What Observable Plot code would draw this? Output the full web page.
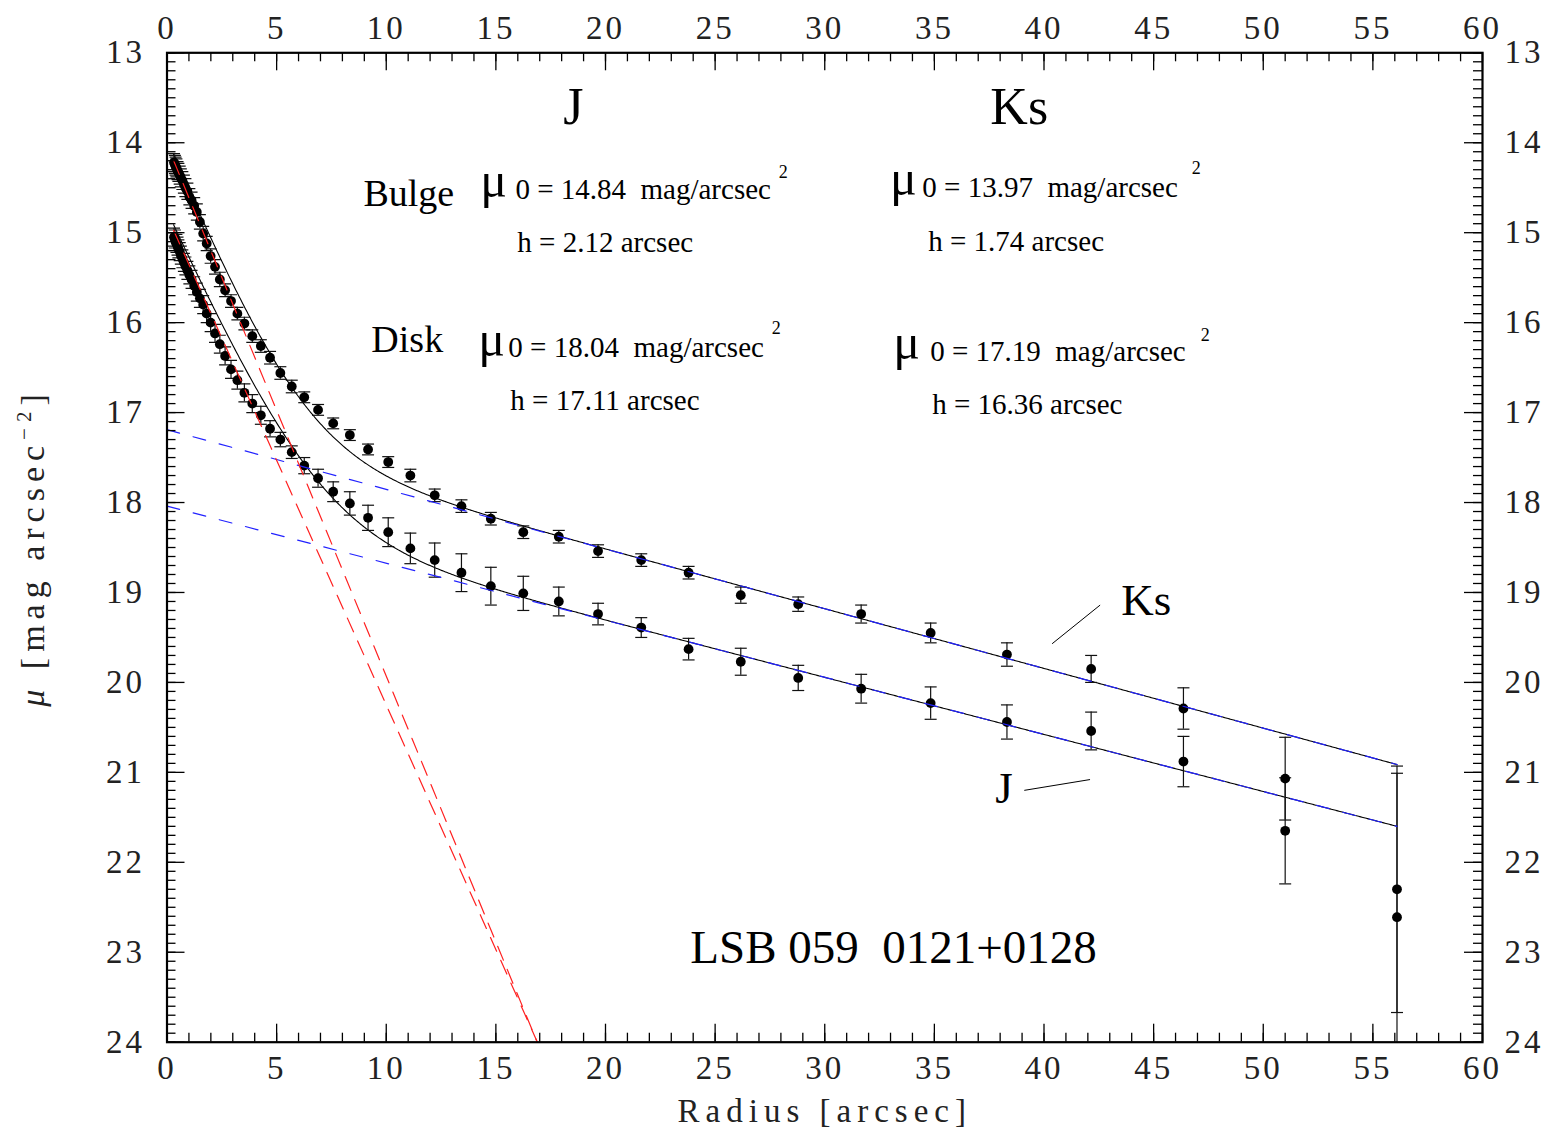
<!DOCTYPE html>
<html><head><meta charset="utf-8">
<script src="https://cdn.jsdelivr.net/npm/d3@7"></script>
<script src="https://cdn.jsdelivr.net/npm/@observablehq/plot@0.6"></script>
<style>
html,body{margin:0;padding:0;background:#fff;}
svg text{white-space:pre;}
g[aria-description="ticklab"] text{letter-spacing:3px;}
g[aria-description="axtitle"] text{letter-spacing:6px;}
</style>
</head><body><div id="chart"></div>
<script>
// ---- data ----
const radii = [0.32,0.36,0.39,0.43,0.48,0.52,0.58,0.63,0.70,0.77,
  0.84,0.93,1.02,1.12,1.24,1.36,1.50,1.65,1.81,1.99,
  2.19,2.41,2.65,2.92,3.21,3.53,3.89,4.28,4.70,5.17,
  5.69,6.26,6.89,7.58,8.34,9.17,10.09,11.10,12.21,13.43,
  14.77,16.25,17.87,19.66,21.63,23.79,26.17,28.79,31.66,34.83,
  38.31,42.15,46.36,51.00,56.10];
const muKs = [14.22,14.24,14.26,14.28,14.31,14.33,14.36,14.39,14.42,14.46,
  14.50,14.54,14.60,14.64,14.70,14.77,14.88,15.01,15.12,15.26,
  15.38,15.52,15.64,15.76,15.90,16.01,16.15,16.26,16.39,16.56,
  16.71,16.83,16.97,17.12,17.25,17.41,17.55,17.70,17.92,18.04,
  18.18,18.33,18.38,18.54,18.64,18.78,19.03,19.13,19.24,19.45,
  19.69,19.85,20.29,21.07,22.30];
const errKs = [0.10,0.10,0.10,0.10,0.10,0.10,0.10,0.10,0.10,0.10,
  0.10,0.09,0.09,0.09,0.09,0.09,0.08,0.08,0.08,0.08,
  0.08,0.08,0.07,0.07,0.07,0.07,0.07,0.07,0.07,0.07,
  0.07,0.06,0.06,0.06,0.06,0.06,0.06,0.07,0.07,0.07,
  0.07,0.07,0.07,0.07,0.07,0.07,0.09,0.08,0.10,0.11,
  0.13,0.15,0.23,0.46,1.37];
const muJ = [15.05,15.07,15.10,15.12,15.15,15.18,15.21,15.25,15.29,15.33,
  15.37,15.42,15.47,15.52,15.59,15.66,15.73,15.80,15.90,16.00,
  16.12,16.24,16.37,16.52,16.64,16.78,16.90,17.03,17.18,17.30,
  17.44,17.59,17.73,17.88,18.01,18.17,18.33,18.51,18.64,18.78,
  18.93,19.01,19.10,19.24,19.39,19.63,19.77,19.95,20.07,20.23,
  20.44,20.54,20.88,21.65,22.61];
const errJ = [0.10,0.10,0.10,0.10,0.10,0.10,0.10,0.10,0.10,0.10,
  0.10,0.10,0.10,0.10,0.10,0.10,0.10,0.10,0.10,0.10,
  0.10,0.10,0.10,0.10,0.10,0.10,0.10,0.10,0.09,0.08,
  0.07,0.09,0.10,0.11,0.13,0.14,0.16,0.17,0.19,0.21,
  0.21,0.19,0.16,0.12,0.11,0.12,0.15,0.14,0.16,0.18,
  0.19,0.21,0.28,0.59,1.60];

// fit components (as drawn)
const bands = ["J", "Ks"];
const bulgeMu0 = [14.81, 14.02];
const bulgeSlope = [0.544, 0.591];   // mag / arcsec
const diskMu0 = [18.04, 17.19];
const diskScale = [17.11, 16.36];    // arcsec
const fitStart = 0.3, fitEnd = 56.1;

// tick labels
const xMajor = [0,5,10,15,20,25,30,35,40,45,50,55,60];
const yMajor = [13,14,15,16,17,18,19,20,21,22,23,24];

// ---- build tables ----
const pts = [];
radii.forEach((r, i) => {
  pts.push({band: "Ks", r, mu: muKs[i], e: errKs[i]});
  pts.push({band: "J", r, mu: muJ[i], e: errJ[i]});
});
const bulge = (b, r) => bulgeMu0[b] + bulgeSlope[b] * r;
const disk = (b, r) => diskMu0[b] + 1.0857 * r / diskScale[b];
const total = (b, r) => -2.5 * Math.log10(Math.pow(10, -0.4 * bulge(b, r)) + Math.pow(10, -0.4 * disk(b, r)));
const curve = [], diskLines = [], bulgeLines = [];
bands.forEach((name, b) => {
  for (let r = fitStart; r <= fitEnd + 1e-9; r += 0.05) curve.push({band: name, r, mu: total(b, r)});
  diskLines.push({band: name, r: 0, mu: disk(b, 0)}, {band: name, r: fitEnd, mu: disk(b, fitEnd)});
  const rEnd = (24 - bulgeMu0[b]) / bulgeSlope[b];
  bulgeLines.push({band: name, r: fitStart, mu: bulge(b, fitStart)}, {band: name, r: rEnd, mu: 24});
});

const xMinor = d3.range(0, 61, 1);
const yMinor = d3.range(130, 241).map(v => v / 10);

// annotations
const serif = "Liberation Serif, Times New Roman, serif";
const labels = [
  {t: "J", x: 18.53, y: 13.787, s: 52, a: "middle"},
  {t: "Ks", x: 38.87, y: 13.787, s: 52, a: "middle"},
  {t: "Bulge", x: 8.96, y: 14.698, s: 38, a: "start"},
  {t: "Disk", x: 9.32, y: 16.332, s: 38, a: "start"},
  {t: "μ", x: 14.29, y: 14.60, s: 50, a: "start"},
  {t: "0 = 14.84  mag/arcsec", x: 15.89, y: 14.620, s: 29, a: "start"},
  {t: "2", x: 28.11, y: 14.387, s: 18, a: "middle"},
  {t: "h = 2.12 arcsec", x: 15.98, y: 15.220, s: 29, a: "start"},
  {t: "μ", x: 32.98, y: 14.58, s: 50, a: "start"},
  {t: "0 = 13.97  mag/arcsec", x: 34.45, y: 14.598, s: 29, a: "start"},
  {t: "2", x: 46.94, y: 14.353, s: 18, a: "middle"},
  {t: "h = 1.74 arcsec", x: 34.72, y: 15.198, s: 29, a: "start"},
  {t: "μ", x: 14.20, y: 16.37, s: 50, a: "start"},
  {t: "0 = 18.04  mag/arcsec", x: 15.57, y: 16.387, s: 29, a: "start"},
  {t: "2", x: 27.79, y: 16.121, s: 18, a: "middle"},
  {t: "h = 17.11 arcsec", x: 15.66, y: 16.976, s: 29, a: "start"},
  {t: "μ", x: 33.12, y: 16.40, s: 50, a: "start"},
  {t: "0 = 17.19  mag/arcsec", x: 34.81, y: 16.421, s: 29, a: "start"},
  {t: "2", x: 47.35, y: 16.199, s: 18, a: "middle"},
  {t: "h = 16.36 arcsec", x: 34.90, y: 17.021, s: 29, a: "start"},
  {t: "Ks", x: 43.52, y: 19.256, s: 45, a: "start"},
  {t: "J", x: 37.78, y: 21.346, s: 45, a: "start"},
  {t: "LSB 059  0121+0128", x: 23.87, y: 23.114, s: 47, a: "start"}
];
const leaders = [
  {x1: 40.37, y1: 19.57, x2: 42.56, y2: 19.14},
  {x1: 39.10, y1: 21.20, x2: 42.10, y2: 21.08}
];

const W = 1553, H = 1134, mL = 166.5, mR = 71, mT = 52.3, mB = 92.3;
const pw = W - mL - mR, ph = H - mT - mB;
const cap = {draw(ctx, size) { const w = Math.sqrt(size / Math.PI); ctx.moveTo(-w, 0); ctx.lineTo(w, 0); }};
const yTitle = "μ [mag arcsec-2]";

const marks = [
  Plot.line(curve, {x: "r", y: "mu", z: "band", stroke: "#000", strokeWidth: 1.1, clip: true}),
  Plot.ruleX(pts, {x: "r", y1: d => d.mu - d.e, y2: d => d.mu + d.e, stroke: "#111", strokeWidth: 1.2, clip: true}),
  Plot.dot(pts, {x: "r", y: d => d.mu - d.e, symbol: cap, r: 6, stroke: "#111", fill: "none", strokeWidth: 1.2, clip: true}),
  Plot.dot(pts, {x: "r", y: d => d.mu + d.e, symbol: cap, r: 6, stroke: "#111", fill: "none", strokeWidth: 1.2, clip: true}),
  Plot.dot(pts, {x: "r", y: "mu", r: 4.9, fill: "#000", stroke: "none"}),
  Plot.line(diskLines, {x: "r", y: "mu", z: "band", stroke: "#2222ff", strokeWidth: 1.2, strokeDasharray: "13,14", clip: true}),
  Plot.line(bulgeLines, {x: "r", y: "mu", z: "band", stroke: "#ff2020", strokeWidth: 1.2, strokeDasharray: "15,10", clip: true}),
  Plot.link(leaders, {x1: "x1", y1: "y1", x2: "x2", y2: "y2", stroke: "#000", strokeWidth: 1}),
  // ticks (inward)
  Plot.ruleX(xMinor, {x: d => d, insetTop: ph - 9, stroke: "#000", strokeWidth: 1.3}),
  Plot.ruleX(xMajor, {x: d => d, insetTop: ph - 18, stroke: "#000", strokeWidth: 1.3}),
  Plot.ruleX(xMinor, {x: d => d, insetBottom: ph - 9, stroke: "#000", strokeWidth: 1.3}),
  Plot.ruleX(xMajor, {x: d => d, insetBottom: ph - 18, stroke: "#000", strokeWidth: 1.3}),
  Plot.ruleY(yMinor, {y: d => d, insetRight: pw - 9, stroke: "#000", strokeWidth: 1.3}),
  Plot.ruleY(yMajor, {y: d => d, insetRight: pw - 18, stroke: "#000", strokeWidth: 1.3}),
  Plot.ruleY(yMinor, {y: d => d, insetLeft: pw - 9, stroke: "#000", strokeWidth: 1.3}),
  Plot.ruleY(yMajor, {y: d => d, insetLeft: pw - 18, stroke: "#000", strokeWidth: 1.3}),
  Plot.frame({stroke: "#000", strokeWidth: 2.2}),
  // tick labels
  Plot.text(xMajor, {x: d => d, frameAnchor: "bottom", dy: 13, lineAnchor: "top", fontSize: 33, fontFamily: serif, fill: "#222", ariaDescription: "ticklab"}),
  Plot.text(xMajor, {x: d => d, frameAnchor: "top", dy: -14, lineAnchor: "bottom", fontSize: 33, fontFamily: serif, fill: "#222", ariaDescription: "ticklab"}),
  Plot.text(yMajor, {y: d => d, frameAnchor: "left", dx: -22, textAnchor: "end", fontSize: 33, fontFamily: serif, fill: "#222", ariaDescription: "ticklab"}),
  Plot.text(yMajor, {y: d => d, frameAnchor: "right", dx: 22, textAnchor: "start", fontSize: 33, fontFamily: serif, fill: "#222", ariaDescription: "ticklab"}),
  // axis titles
  Plot.text(["Radius [arcsec]"], {frameAnchor: "bottom", dy: 80, lineAnchor: "bottom", textAnchor: "middle", fontSize: 33, fontFamily: serif, fill: "#222", ariaDescription: "axtitle"}),
  Plot.text([yTitle], {frameAnchor: "left", dx: -123, rotate: -90, textAnchor: "middle", lineAnchor: "bottom", fontSize: 34, fontFamily: serif, fill: "#222", ariaDescription: "axtitle"}),
  // annotations
  ...labels.map(l => Plot.text([l], {x: "x", y: "y", text: "t", fontSize: l.s, textAnchor: l.a, lineAnchor: "bottom", fontFamily: serif, fill: "#000"}))
];

const svg = Plot.plot({
  width: W, height: H,
  marginLeft: mL, marginRight: mR, marginTop: mT, marginBottom: mB,
  x: {domain: [0, 60], axis: null},
  y: {domain: [24, 13], axis: null},
  style: {background: "#fff", fontFamily: serif},
  marks
});
document.getElementById("chart").appendChild(svg);

// rich text for the y-axis title
const yt = Array.from(svg.querySelectorAll("text")).find(n => n.textContent === yTitle);
if (yt) {
  yt.textContent = "";
  const ns = "http://www.w3.org/2000/svg";
  const add = (txt, attrs) => { const s = document.createElementNS(ns, "tspan"); s.textContent = txt; for (const k in attrs) s.setAttribute(k, attrs[k]); yt.appendChild(s); return s; };
  add("μ", {"font-style": "italic"});
  add(" [mag arcsec", {});
  add("−2", {"font-size": "21", dy: "-13"});
  add("]", {dy: "13"});
}
</script></body></html>
